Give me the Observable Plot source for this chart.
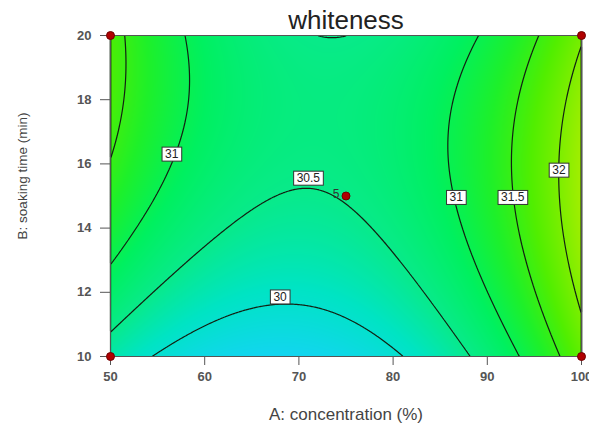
<!DOCTYPE html>
<html><head><meta charset="utf-8">
<script src="https://cdn.jsdelivr.net/npm/d3@7"></script>
<script src="https://cdn.jsdelivr.net/npm/@observablehq/plot@0.6"></script>
<style>
body{margin:0;background:#fff}
svg{font-family:"Liberation Sans",Arial,sans-serif}
</style>
</head><body><div id="chart"></div>
<script>
// Grid of the response surface
const A = [50,55,60,65,70,75,80,85,90,95,100];       // concentration (%)
const B = [10,11,12,13,14,15,16,17,18,19,20];        // soaking time (min)
const whiteness = [
 [30.285,29.968,29.755,29.646,29.641,29.740,29.943,30.250,30.661,31.176,31.795], // B=10
 [30.565,30.236,30.011,29.890,29.873,29.960,30.151,30.446,30.845,31.348,31.955], // B=11
 [30.813,30.472,30.235,30.102,30.073,30.148,30.327,30.610,30.997,31.488,32.083], // B=12
 [31.028,30.676,30.427,30.282,30.241,30.304,30.471,30.742,31.117,31.596,32.180], // B=13
 [31.212,30.847,30.587,30.430,30.377,30.428,30.583,30.842,31.205,31.673,32.244], // B=14
 [31.364,30.987,30.714,30.546,30.481,30.520,30.663,30.910,31.262,31.717,32.276], // B=15
 [31.484,31.095,30.810,30.630,30.553,30.580,30.711,30.947,31.286,31.729,32.276], // B=16
 [31.572,31.171,30.874,30.681,30.593,30.608,30.727,30.951,31.278,31.709,32.244], // B=17
 [31.627,31.215,30.906,30.701,30.601,30.604,30.711,30.923,31.238,31.657,32.181], // B=18
 [31.651,31.226,30.906,30.689,30.577,30.568,30.663,30.863,31.166,31.573,32.085], // B=19
 [31.643,31.206,30.874,30.647,30.521,30.499,30.584,30.771,31.062,31.458,31.957]  // B=20
];
const levels = [30, 30.5, 31, 31.5, 32];
const labelA = [56.5, 71.0, 68.0, 86.7, 92.7, 97.6];
const labelB = [16.3, 15.55, 11.85, 14.95, 14.95, 15.8];
const labelText = ["31", "30.5", "30", "31", "31.5", "32"];
const designA = [50, 50, 100, 100, 75];
const designB = [10, 20, 10, 20, 15];
const centerRuns = "5";
const xTicks = [50, 60, 70, 80, 90, 100];
const yTicks = [10, 12, 14, 16, 18, 20];
const colorStops = [29.6, 30.1, 30.5, 30.9, 31.3, 31.7, 32.3];
const colorRange = ["#14d4f4", "#00e4c4", "#08ea8a", "#00f060", "#1ef02a", "#52ee00", "#a6ee00"];

const grid = B.flatMap((b, i) => A.map((a, j) => ({A: a, B: b, v: whiteness[i][j]})));
const labels = labelText.map((t, i) => ({A: labelA[i], B: labelB[i], t}));
const design = designA.map((a, i) => ({A: a, B: designB[i]}));
const bounds = {x1: 50, x2: 100, y1: 10, y2: 20};

// smooth (Catmull-Rom bicubic) interpolation of the regular grid, for the raster and contours
function bicubic(index, w, h, X, Y, V) {
  const xs = [...new Set(Array.from(index, i => X[i]))].sort((a, b) => a - b);
  const ys = [...new Set(Array.from(index, i => Y[i]))].sort((a, b) => a - b);
  const nx = xs.length, ny = ys.length;
  const G = Array.from({length: ny}, () => new Array(nx).fill(0));
  for (const i of index) G[ys.indexOf(Y[i])][xs.indexOf(X[i])] = V[i];
  const padRow = r => [3*r[0] - 3*r[1] + r[2], ...r, 3*r[nx-1] - 3*r[nx-2] + r[nx-3]];
  const rows = G.map(padRow);
  const ext = (a, b, c) => a.map((v, k) => 3*v - 3*b[k] + c[k]);
  const P = [ext(rows[0], rows[1], rows[2]), ...rows, ext(rows[ny-1], rows[ny-2], rows[ny-3])];
  const cr = (p0, p1, p2, p3, t) => p1 + 0.5*t*(p2 - p0 + t*(2*p0 - 5*p1 + 4*p2 - p3 + t*(3*(p1 - p2) + p3 - p0)));
  const out = new Float64Array(w * h);
  const x0 = xs[0], xw = xs[nx-1] - xs[0], y0 = ys[0], yh = ys[ny-1] - ys[0];
  for (let j = 0; j < h; ++j) {
    const v = Math.max(0, Math.min(ny - 1, ((j + 0.5) - y0) / yh * (ny - 1)));
    const ky = Math.min(Math.floor(v), ny - 2), ty = v - ky;
    for (let i = 0; i < w; ++i) {
      const u = Math.max(0, Math.min(nx - 1, ((i + 0.5) - x0) / xw * (nx - 1)));
      const kx = Math.min(Math.floor(u), nx - 2), tx = u - kx;
      const c = [0, 1, 2, 3].map(m => {
        const r = P[ky + m];
        return cr(r[kx], r[kx+1], r[kx+2], r[kx+3], tx);
      });
      out[j * w + i] = cr(c[0], c[1], c[2], c[3], ty);
    }
  }
  return out;
}

const svg = Plot.plot({
  width: 589, height: 426,
  marginLeft: 110, marginRight: 8, marginTop: 35, marginBottom: 70,
  x: {domain: [50, 100]},
  y: {domain: [10, 20]},
  color: {type: "linear", domain: colorStops, range: colorRange, clamp: true},
  marks: [
    Plot.raster(grid, {x: "A", y: "B", fill: "v", interpolate: bicubic, pixelSize: 1, ...bounds}),
    Plot.contour(grid, {x: "A", y: "B", value: "v", thresholds: levels, interpolate: bicubic,
      pixelSize: 1, fill: "none", stroke: "#122012", strokeWidth: 1.2, ...bounds}),
    Plot.frame({stroke: "#555", strokeWidth: 1}),
    Plot.axisX({ticks: xTicks, tickSize: 9, tickPadding: 6, fontSize: 13, fontWeight: "bold", color: "#555", label: null}),
    Plot.axisY({ticks: yTicks, tickSize: 10, tickPadding: 9, fontSize: 13, fontWeight: "bold", color: "#555", label: null}),
    Plot.text(labels, {x: "A", y: "B", text: "t", fontSize: 12, fill: "#222", className: "clabel"}),
    Plot.dot(design, {x: "A", y: "B", r: 4, fill: "#b00000", stroke: "#700000", strokeWidth: 1}),
    Plot.text([centerRuns], {x: designA[4], y: designB[4], text: d => d, dx: -10, dy: -2, fontSize: 12, fill: "#333"}),
    Plot.text(["whiteness"], {frameAnchor: "top", lineAnchor: "middle", dy: -15, fontSize: 26, fill: "#222"}),
    Plot.text(["A: concentration (%)"], {frameAnchor: "bottom", lineAnchor: "middle", dy: 58, fontSize: 17, fill: "#444"}),
    Plot.text(["B: soaking time (min)"], {frameAnchor: "left", textAnchor: "middle", lineAnchor: "middle", dx: -88, dy: -20, rotate: -90, fontSize: 13.5, fill: "#444"})
  ]
});
document.getElementById("chart").append(svg);
const labelTexts = svg.querySelectorAll("g.clabel text, [class*='clabel'] text");
labelTexts.forEach(t => {
  const bb = t.getBBox();
  const r = document.createElementNS("http://www.w3.org/2000/svg", "rect");
  r.setAttribute("x", bb.x - 3);
  r.setAttribute("y", bb.y);
  r.setAttribute("width", bb.width + 6);
  r.setAttribute("height", bb.height);
  if (t.getAttribute("transform")) r.setAttribute("transform", t.getAttribute("transform"));
  r.setAttribute("fill", "#fff");
  r.setAttribute("stroke", "#333");
  r.setAttribute("stroke-width", "1");
  t.parentNode.insertBefore(r, t);
});
</script>
</body></html>
